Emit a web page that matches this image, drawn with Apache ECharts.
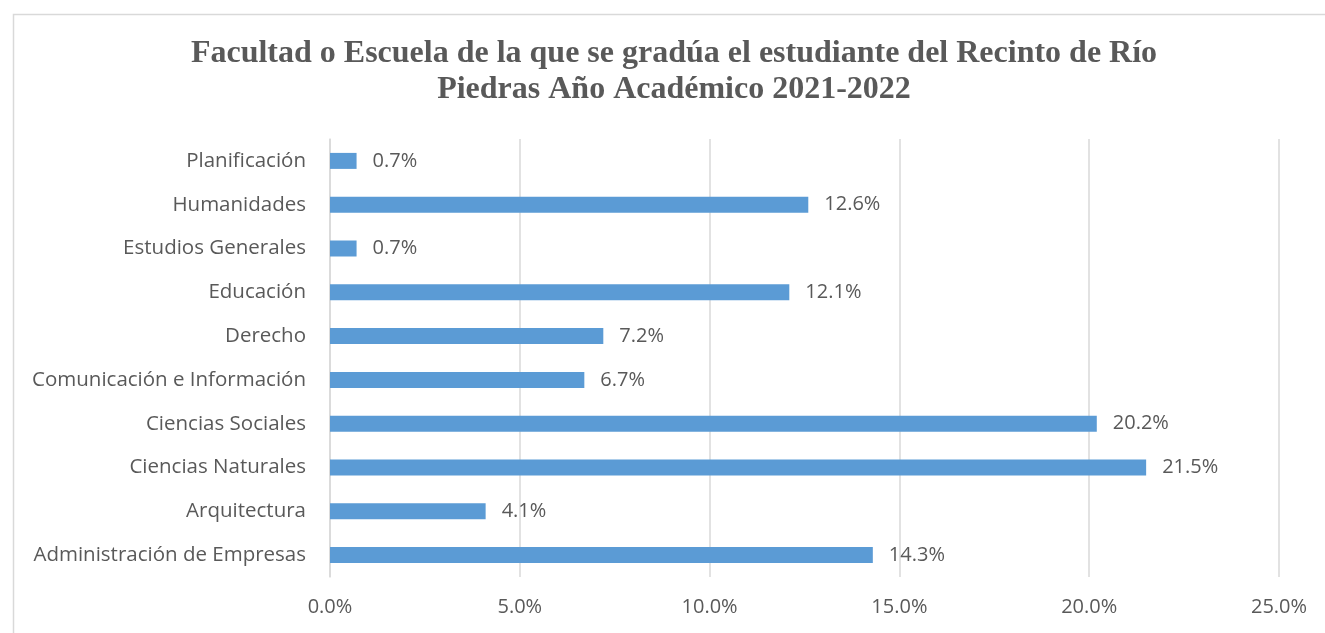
<!DOCTYPE html>
<html><head><meta charset="utf-8">
<script src="https://cdn.jsdelivr.net/npm/echarts@6/dist/echarts.min.js"></script>
<style>html,body{margin:0;padding:0;background:#fff}#c{width:1325px;height:633px}</style>
</head><body><div id="c"></div>
<script>
const categories = ["Administración de Empresas","Arquitectura","Ciencias Naturales","Ciencias Sociales","Comunicación e Información","Derecho","Educación","Estudios Generales","Humanidades","Planificación"];
const values = [14.3, 4.1, 21.5, 20.2, 6.7, 7.2, 12.1, 0.7, 12.6, 0.7];
const tickLabels = ["0.0%","5.0%","10.0%","15.0%","20.0%","25.0%"];
const titleText = "Facultad o Escuela de la que se gradúa el estudiante del Recinto de Río\nPiedras Año Académico 2021-2022";

const chart = echarts.init(document.getElementById('c'), null, {renderer:'canvas'});
const txt = '#595959';
const font = 'Open Sans';
chart.setOption({
  animation:false,
  graphic:[{type:'rect',left:11,top:12,shape:{width:1330,height:640},style:{fill:'none',stroke:'#d9d9d9',lineWidth:1.5},silent:true}],
  title:{text:titleText,left:669,top:31,textAlign:'center',textStyle:{fontFamily:'Liberation Serif',fontWeight:'bold',fontSize:32,color:txt,lineHeight:36}},
  grid:{left:330,right:46,top:139,bottom:56,containLabel:false},
  xAxis:{type:'value',min:0,max:25,interval:5,
    axisLabel:{formatter:v=>tickLabels[Math.round(v/5)],fontFamily:font,fontSize:20,color:txt,margin:20},
    splitLine:{show:true,lineStyle:{color:'#d9d9d9',width:1.5}},axisLine:{show:false},axisTick:{show:false}},
  yAxis:{type:'category',data:categories,
    axisLabel:{fontFamily:font,fontSize:20.5,color:txt,margin:24},
    axisLine:{show:true,lineStyle:{color:'#d9d9d9',width:1.5}},axisTick:{show:false}},
  series:[{type:'bar',data:values,barWidth:16,itemStyle:{color:'#5B9BD5'},
    label:{show:true,position:'right',distance:16,formatter:p=>p.value.toFixed(1)+'%',fontFamily:font,fontSize:20,color:txt}}]
});
</script></body></html>
